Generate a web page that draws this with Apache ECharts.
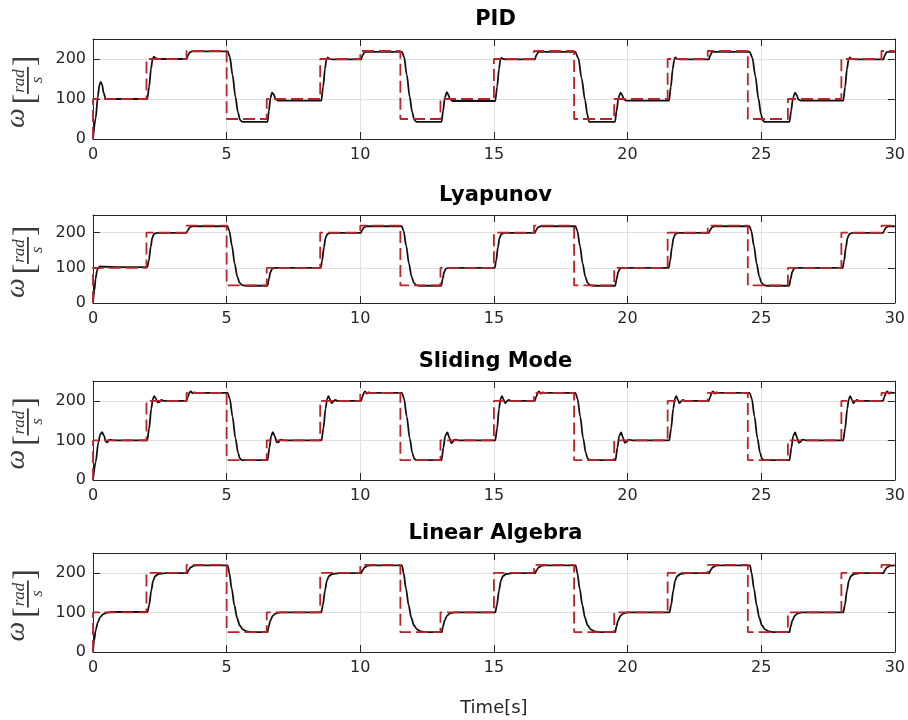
<!DOCTYPE html>
<html>
<head>
<meta charset="utf-8">
<script src="https://cdn.jsdelivr.net/npm/echarts@6/dist/echarts.min.js"></script>
<style>
  html, body { margin: 0; padding: 0; background: #fff; }
  #chart { width: 908px; height: 720px; }
</style>
</head>
<body>
<div id="chart"></div>
<script>
// reference (set point) steps: time where each level starts, and the level
var refT = [0, 2, 3.5, 5, 6.5, 8.5, 10, 11.5, 13, 15, 16.5, 18, 19.5, 21.5, 23, 24.5, 26, 28, 29.5];
var refV = [100, 200, 220, 50, 100, 200, 220, 50, 100, 200, 220, 50, 100, 200, 220, 50, 100, 200, 220];

var pidResp = [
    [0, 0], [0.1, 52], [0.18, 105], [0.24, 135], [0.29, 143], [0.34, 136], [0.4, 115], [0.47, 101], [0.6, 100], [2.03, 100],
    [2.1, 130], [2.17, 175], [2.23, 200], [2.28, 206], [2.34, 202], [2.45, 200], [3.5, 200],
    [3.56, 210], [3.63, 217], [3.7, 219], [5.04, 219],
    [5.12, 205], [5.22, 160], [5.33, 105], [5.42, 68], [5.5, 48], [5.58, 43], [6.53, 43],
    [6.58, 70], [6.64, 103], [6.7, 116], [6.76, 112], [6.83, 100], [6.92, 96], [8.54, 96],
    [8.61, 130], [8.68, 175], [8.73, 198], [8.78, 204], [8.84, 201], [8.95, 199], [10.03, 199],
    [10.09, 210], [10.16, 217], [10.23, 218], [11.56, 218],
    [11.64, 205], [11.74, 160], [11.85, 105], [11.94, 68], [12.02, 48], [12.1, 43], [13.04, 43],
    [13.1, 70], [13.16, 103], [13.24, 117], [13.3, 110], [13.36, 99], [13.45, 95], [15.05, 95],
    [15.12, 130], [15.19, 175], [15.24, 198], [15.28, 203], [15.34, 200], [15.45, 199], [16.53, 199],
    [16.59, 210], [16.66, 217], [16.73, 218], [18.04, 218],
    [18.16, 202], [18.28, 152], [18.41, 97], [18.5, 60], [18.56, 43], [19.53, 43],
    [19.59, 70], [19.66, 103], [19.74, 116], [19.8, 110], [19.86, 99], [19.95, 96], [21.55, 96],
    [21.62, 130], [21.69, 175], [21.75, 199], [21.79, 204], [21.85, 201], [21.95, 199], [23.04, 199],
    [23.1, 210], [23.16, 217], [23.22, 218], [24.57, 218],
    [24.67, 203], [24.78, 158], [24.9, 100], [24.99, 63], [25.06, 46], [25.12, 43], [26.06, 43],
    [26.12, 70], [26.19, 103], [26.27, 116], [26.33, 110], [26.39, 99], [26.48, 96], [28.07, 96],
    [28.14, 130], [28.21, 175], [28.27, 199], [28.32, 204], [28.38, 201], [28.48, 199], [29.57, 199],
    [29.63, 210], [29.69, 217], [29.76, 218], [30, 218]
];

var lyapResp = [
    [0, 0], [0.05, 35], [0.1, 70], [0.15, 92], [0.2, 101], [0.27, 104], [0.4, 103], [1, 102], [2.03, 102],
    [2.09, 120], [2.16, 160], [2.22, 186], [2.29, 197], [2.4, 199], [3.5, 199],
    [3.55, 207], [3.62, 215], [3.72, 218], [5.03, 218],
    [5.1, 205], [5.2, 162], [5.3, 112], [5.4, 75], [5.48, 58], [5.57, 51], [5.7, 49], [6.53, 49],
    [6.58, 68], [6.64, 88], [6.7, 97], [6.8, 100], [8.52, 100],
    [8.57, 118], [8.64, 158], [8.7, 185], [8.77, 196], [8.88, 199], [10.02, 199],
    [10.07, 207], [10.14, 215], [10.24, 218], [11.55, 218],
    [11.62, 205], [11.72, 162], [11.82, 112], [11.92, 75], [12, 58], [12.09, 51], [12.2, 49], [13.03, 49],
    [13.08, 68], [13.14, 88], [13.2, 97], [13.3, 100], [15.03, 100],
    [15.08, 118], [15.15, 158], [15.21, 185], [15.28, 196], [15.39, 199], [16.53, 199],
    [16.58, 207], [16.65, 215], [16.75, 218], [18.05, 218],
    [18.12, 205], [18.22, 162], [18.32, 112], [18.42, 75], [18.5, 58], [18.59, 51], [18.7, 49], [19.54, 49],
    [19.59, 68], [19.65, 88], [19.71, 97], [19.81, 100], [21.54, 100],
    [21.59, 118], [21.66, 158], [21.72, 185], [21.79, 196], [21.9, 199], [23.04, 199],
    [23.09, 207], [23.16, 215], [23.26, 218], [24.56, 218],
    [24.63, 205], [24.73, 162], [24.83, 112], [24.93, 75], [25.01, 58], [25.1, 51], [25.2, 49], [26.05, 49],
    [26.1, 68], [26.16, 88], [26.22, 97], [26.32, 100], [28.05, 100],
    [28.1, 118], [28.17, 158], [28.23, 185], [28.3, 196], [28.41, 199], [29.56, 199],
    [29.61, 207], [29.68, 215], [29.78, 218], [30, 218]
];

var smcResp = [
    [0, 0], [0.1, 45], [0.2, 95], [0.27, 115], [0.34, 121], [0.41, 112], [0.48, 97], [0.54, 95], [0.6, 101], [0.66, 102], [0.75, 100], [2.03, 100],
    [2.1, 130], [2.18, 180], [2.24, 205], [2.29, 212], [2.35, 206], [2.42, 196], [2.49, 197], [2.56, 202], [2.64, 200], [3.5, 200],
    [3.55, 210], [3.61, 221], [3.66, 224], [3.72, 219], [3.78, 221], [3.86, 220], [5.04, 220],
    [5.12, 205], [5.22, 160], [5.33, 105], [5.43, 68], [5.5, 54], [5.57, 50], [6.53, 50],
    [6.6, 82], [6.67, 112], [6.73, 121], [6.8, 111], [6.87, 96], [6.93, 95], [7, 101], [7.06, 102], [7.15, 100], [8.55, 100],
    [8.62, 130], [8.7, 180], [8.76, 205], [8.81, 212], [8.87, 203], [8.93, 194], [9, 199], [9.06, 202], [9.14, 200], [10.03, 200],
    [10.08, 210], [10.14, 221], [10.18, 224], [10.24, 218], [10.3, 221], [10.38, 220], [11.56, 220],
    [11.64, 205], [11.74, 160], [11.85, 105], [11.95, 68], [12.02, 54], [12.09, 50], [13.04, 50],
    [13.11, 82], [13.18, 112], [13.26, 120], [13.33, 107], [13.4, 93], [13.46, 96], [13.52, 101], [13.58, 102], [13.67, 100], [15.05, 100],
    [15.12, 130], [15.19, 180], [15.25, 205], [15.3, 212], [15.36, 203], [15.42, 194], [15.49, 199], [15.55, 202], [15.63, 200], [16.53, 200],
    [16.58, 210], [16.64, 221], [16.69, 224], [16.75, 218], [16.81, 221], [16.89, 220], [18.05, 220],
    [18.13, 205], [18.23, 160], [18.34, 105], [18.44, 68], [18.51, 54], [18.58, 50], [19.55, 50],
    [19.62, 82], [19.69, 112], [19.76, 120], [19.83, 107], [19.9, 94], [19.96, 96], [20.02, 101], [20.08, 102], [20.17, 100], [21.56, 100],
    [21.63, 130], [21.71, 180], [21.77, 205], [21.82, 212], [21.88, 203], [21.94, 194], [22.01, 199], [22.07, 202], [22.15, 200], [23.04, 200],
    [23.09, 210], [23.15, 221], [23.2, 224], [23.26, 218], [23.32, 221], [23.4, 220], [24.57, 220],
    [24.65, 205], [24.75, 160], [24.86, 105], [24.96, 68], [25.03, 54], [25.1, 50], [26.06, 50],
    [26.13, 82], [26.2, 112], [26.27, 120], [26.34, 107], [26.41, 94], [26.47, 96], [26.53, 101], [26.59, 102], [26.68, 100], [28.07, 100],
    [28.14, 130], [28.22, 180], [28.28, 205], [28.33, 212], [28.39, 203], [28.45, 194], [28.52, 199], [28.58, 202], [28.66, 200], [29.56, 200],
    [29.61, 210], [29.67, 221], [29.72, 224], [29.78, 218], [29.84, 221], [29.92, 220], [30, 220]
];

var linResp = [
    [0, 0], [0.04, 28], [0.1, 55], [0.18, 75], [0.27, 88], [0.37, 95], [0.5, 99], [0.7, 101], [2.04, 101],
    [2.1, 118], [2.18, 155], [2.25, 180], [2.33, 192], [2.45, 197], [2.7, 199], [3.52, 199],
    [3.58, 207], [3.66, 214], [3.77, 218], [4, 219], [5.04, 219],
    [5.1, 200], [5.19, 160], [5.29, 118], [5.39, 86], [5.49, 67], [5.6, 57], [5.75, 52], [6, 50], [6.53, 50],
    [6.57, 64], [6.64, 80], [6.72, 91], [6.82, 97], [7, 100], [8.54, 100],
    [8.6, 118], [8.68, 155], [8.75, 180], [8.83, 192], [8.95, 197], [9.2, 199], [10.03, 199],
    [10.09, 207], [10.17, 214], [10.28, 218], [10.5, 219], [11.56, 219],
    [11.62, 200], [11.71, 160], [11.81, 118], [11.91, 86], [12.01, 67], [12.12, 57], [12.27, 52], [12.5, 50], [13.05, 50],
    [13.09, 64], [13.16, 80], [13.24, 91], [13.34, 97], [13.52, 100], [15.05, 100],
    [15.11, 118], [15.19, 155], [15.26, 180], [15.34, 192], [15.46, 197], [15.7, 199], [16.54, 199],
    [16.6, 207], [16.68, 214], [16.79, 218], [17, 219], [18.06, 219],
    [18.12, 200], [18.21, 160], [18.31, 118], [18.41, 86], [18.51, 67], [18.62, 57], [18.77, 52], [19, 50], [19.54, 50],
    [19.58, 64], [19.65, 80], [19.73, 91], [19.83, 97], [20, 100], [21.57, 100],
    [21.63, 118], [21.71, 155], [21.78, 180], [21.86, 192], [21.98, 197], [22.2, 199], [23.05, 199],
    [23.11, 207], [23.19, 214], [23.3, 218], [23.5, 219], [24.58, 219],
    [24.64, 200], [24.73, 160], [24.83, 118], [24.93, 86], [25.03, 67], [25.14, 57], [25.29, 52], [25.5, 50], [26.06, 50],
    [26.1, 64], [26.17, 80], [26.25, 91], [26.35, 97], [26.52, 100], [28.07, 100],
    [28.13, 118], [28.21, 155], [28.28, 180], [28.36, 192], [28.48, 197], [28.7, 199], [29.57, 199],
    [29.63, 207], [29.71, 214], [29.82, 218], [30, 219]
];

var titles = ['PID', 'Lyapunov', 'Sliding Mode', 'Linear Algebra'];
var responses = [pidResp, lyapResp, smcResp, linResp];

// layout of the four panels (px)
var gridLeft = 93, gridRight = 10;
var gridTops = [39, 215, 381, 553];
var gridHeights = [100, 88, 99, 99];

var axisColor = '#262626';
var fontName = 'DejaVu Sans';

var refData = [[0, 0]];
for (var k = 0; k < refT.length; k++) refData.push([refT[k], refV[k]]);
refData.push([30, refV[refV.length - 1]]);

var grids = [], xAxes = [], yAxes = [], series = [], graphics = [];

function yLabel(cy) {
    var serif = 'Liberation Serif';
    var col = '#3a3a3a';
    return {
        type: 'group', x: 27, y: cy, rotation: Math.PI / 2,
        children: [
            {type: 'text', x: -25, y: -10, style: {text: 'ω', fontFamily: serif, fontStyle: 'italic', fontSize: 28, fill: col, align: 'center', verticalAlign: 'middle'}},
            {type: 'text', x: -6, y: 0, style: {text: '[', fontFamily: serif, fontSize: 32, fill: col, align: 'center', verticalAlign: 'middle'}},
            {type: 'text', x: 12, y: -7, style: {text: 'rad', fontFamily: serif, fontStyle: 'italic', fontSize: 17, fill: col, align: 'center', verticalAlign: 'middle'}},
            {type: 'rect', shape: {x: -1, y: 0, width: 27, height: 1.8}, style: {fill: col}},
            {type: 'text', x: 13, y: 11, style: {text: 's', fontFamily: serif, fontStyle: 'italic', fontSize: 17, fill: col, align: 'center', verticalAlign: 'middle'}},
            {type: 'text', x: 32, y: 0, style: {text: ']', fontFamily: serif, fontSize: 32, fill: col, align: 'center', verticalAlign: 'middle'}}
        ]
    };
}

for (var i = 0; i < 4; i++) {
    grids.push({left: gridLeft, right: gridRight, top: gridTops[i], height: gridHeights[i]});

    var tick = {show: true, inside: true, length: 7, lineStyle: {color: axisColor, width: 1}};
    var line = {show: true, onZero: false, lineStyle: {color: axisColor, width: 1}};

    xAxes.push({
        gridIndex: i, type: 'value', min: 0, max: 30, interval: 5,
        axisLine: line, axisTick: tick,
        axisLabel: {fontFamily: fontName, fontSize: 16, color: axisColor, margin: 8},
        splitLine: {show: true, lineStyle: {color: '#e1e1e1', width: 1}},
        name: i === 3 ? 'Time[s]' : '',
        nameLocation: 'middle', nameGap: 47,
        nameTextStyle: {fontFamily: fontName, fontSize: 18, color: axisColor}
    });
    xAxes.push({
        gridIndex: i, type: 'value', position: 'top', min: 0, max: 30, interval: 5,
        axisLine: line, axisTick: tick, axisLabel: {show: false}, splitLine: {show: false}
    });
    yAxes.push({
        gridIndex: i, type: 'value', min: 0, max: 250, interval: 100,
        axisLine: line, axisTick: tick,
        axisLabel: {fontFamily: fontName, fontSize: 16, color: axisColor, margin: 7, showMaxLabel: false},
        splitLine: {show: true, lineStyle: {color: '#e1e1e1', width: 1}}
    });
    yAxes.push({
        gridIndex: i, type: 'value', position: 'right', min: 0, max: 250, interval: 100,
        axisLine: line, axisTick: tick, axisLabel: {show: false}, splitLine: {show: false}
    });

    series.push({
        type: 'line', xAxisIndex: 2 * i, yAxisIndex: 2 * i,
        data: responses[i], symbol: 'none', smooth: 0.3, smoothMonotone: 'x',
        lineStyle: {color: '#111', width: 1.8}, z: 2
    });
    series.push({
        type: 'line', xAxisIndex: 2 * i, yAxisIndex: 2 * i,
        data: refData, step: 'end', symbol: 'none',
        lineStyle: {color: '#bb2329', width: 1.8, type: [12, 5]}, z: 3
    });

    graphics.push({
        type: 'text', x: gridLeft + (908 - gridLeft - gridRight) / 2, y: gridTops[i] - 19,
        style: {text: titles[i], fontFamily: fontName, fontWeight: 'bold', fontSize: 21, fill: '#000', align: 'center', verticalAlign: 'middle'}
    });
    graphics.push(yLabel(gridTops[i] + gridHeights[i] / 2 + 4));
}

var chart = echarts.init(document.getElementById('chart'));
chart.setOption({
    animation: false,
    backgroundColor: '#fff',
    grid: grids,
    xAxis: xAxes,
    yAxis: yAxes,
    series: series,
    graphic: graphics
});
</script>
</body>
</html>
